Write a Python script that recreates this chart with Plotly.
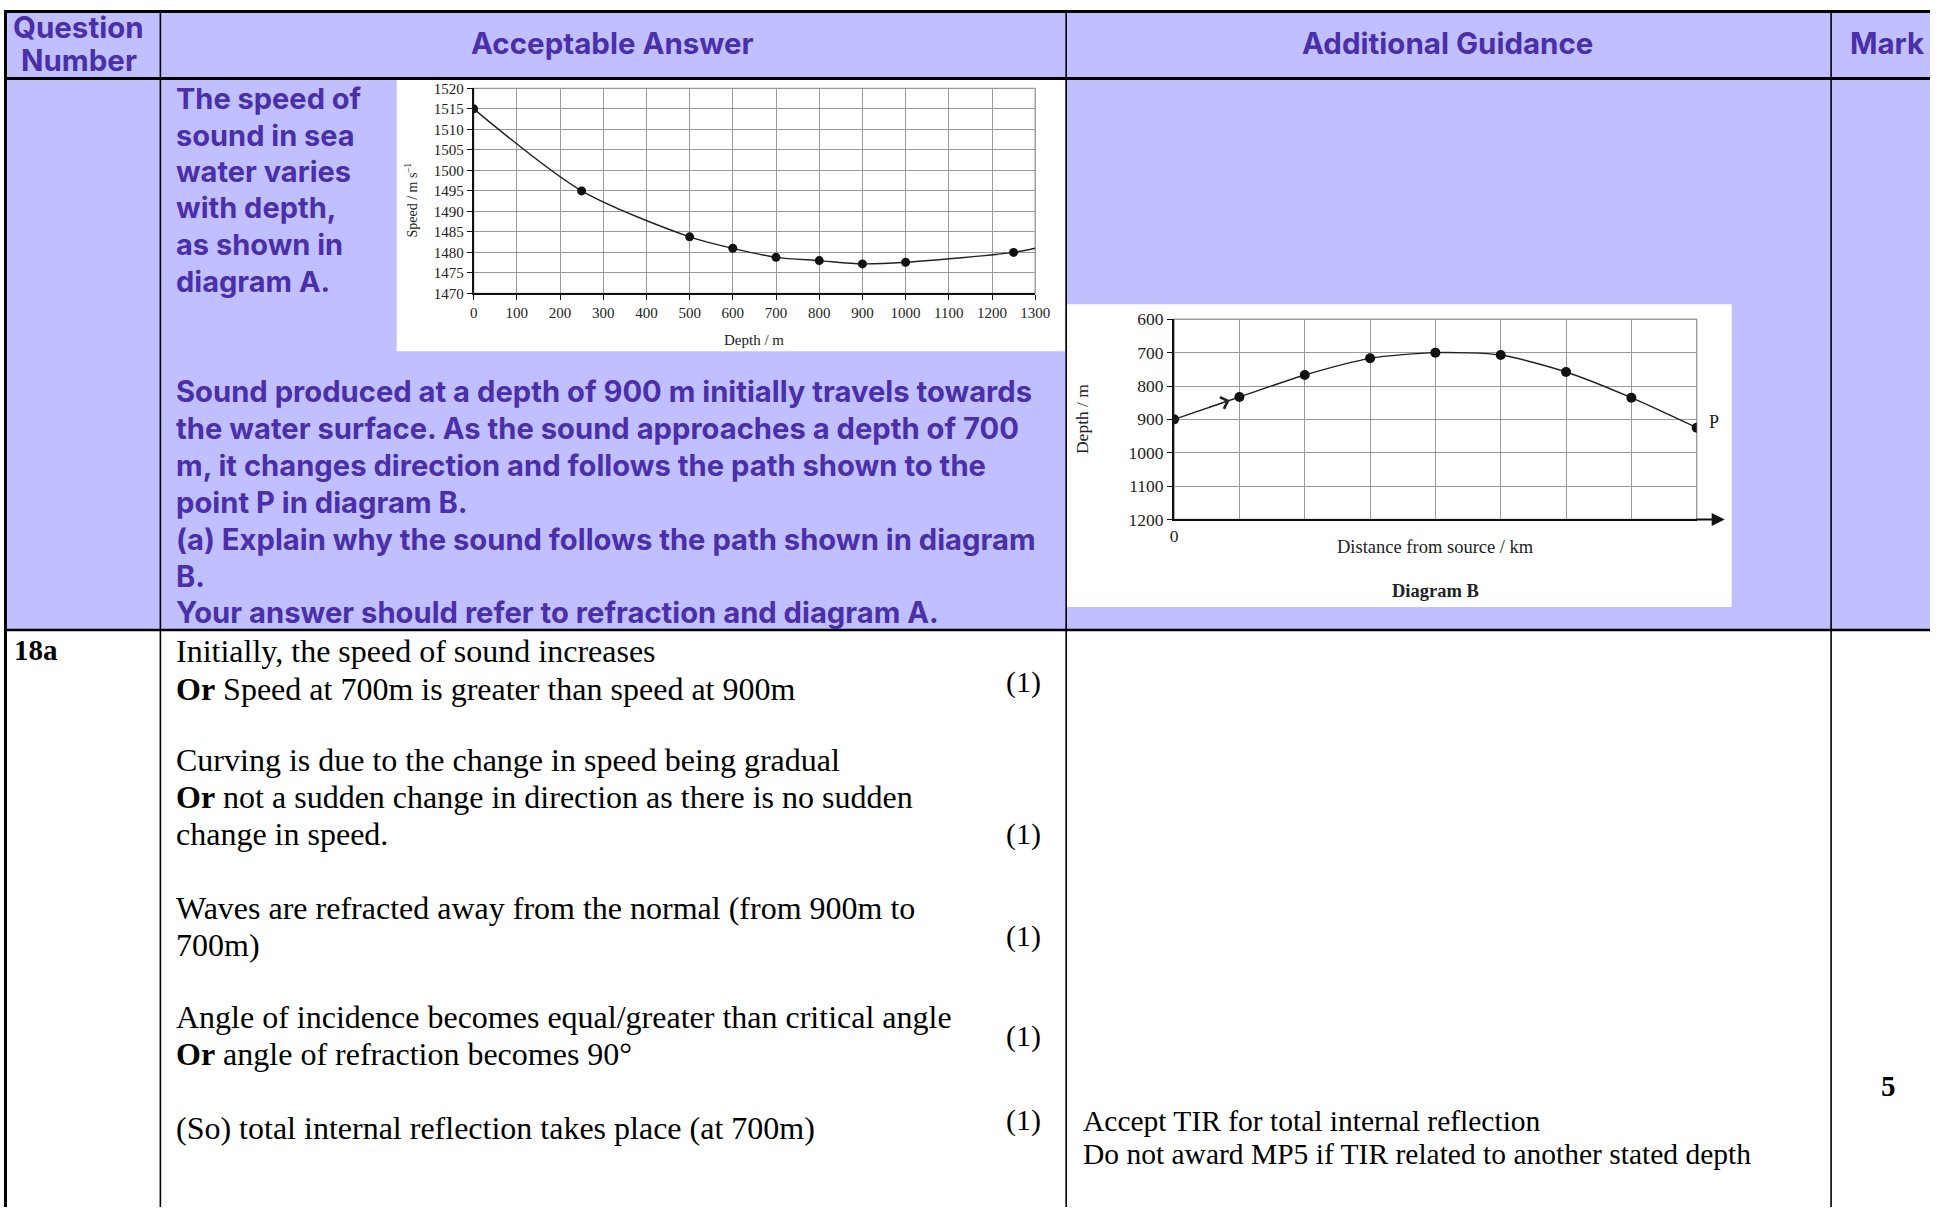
import plotly.graph_objects as go

W, H = 1945, 1217
# empirical correction for how the page is photographed (scale and shift)
SX, CX = 0.991, 6.0
SY, CY = 0.988, 8.3

# ---------------- data ----------------
# Diagram A: speed of sound vs depth
depth_pts = [0, 250, 500, 600, 700, 800, 900, 1000, 1250]
speed_pts = [1515, 1495, 1483.8, 1481, 1478.8, 1478, 1477.2, 1477.6, 1480]
curve_depth = [0, 250, 500, 600, 700, 800, 900, 1000, 1250, 1300]
curve_speed = [1515, 1495, 1483.8, 1481, 1478.8, 1478, 1477.2, 1477.6, 1480, 1481]
a_xticks = list(range(0, 1301, 100))
a_yticks = list(range(1470, 1521, 5))

# Diagram B: path of sound
dist_pts = [0, 1, 2, 3, 4, 5, 6, 7, 8]
path_depth = [900, 833, 767, 717, 700, 707, 758, 835, 925]
b_yticks = [600, 700, 800, 900, 1000, 1100, 1200]

headers = ["Question", "Number", "Acceptable Answer", "Additional Guidance", "Mark"]
question_a = ["The speed of", "sound in sea", "water varies", "with depth,",
              "as shown in", "diagram A."]
question_b = ["Sound produced at a depth of 900 m initially travels towards",
              "the water surface. As the sound approaches a depth of 700",
              "m, it changes direction and follows the path shown to the",
              "point P in diagram B.",
              "(a) Explain why the sound follows the path shown in diagram",
              "B.",
              "Your answer should refer to refraction and diagram A."]
answer_lines = ["Initially, the speed of sound increases",
                "<b>Or</b> Speed at 700m is greater than speed at 900m",
                "Curving is due to the change in speed being gradual",
                "<b>Or</b> not a sudden change in direction as there is no sudden",
                "change in speed.",
                "Waves are refracted away from the normal (from 900m to",
                "700m)",
                "Angle of incidence becomes equal/greater than critical angle",
                "<b>Or</b> angle of refraction becomes 90°",
                "(So) total internal reflection takes place (at 700m)"]
answer_y = [652, 690, 762, 799, 836, 910, 948, 1020, 1057, 1131]
mark_y = [683, 836, 938, 1039, 1123]
guidance = ["Accept TIR for total internal reflection",
            "Do not award MP5 if TIR related to another stated depth"]

LAV = "#c0bfff"
PURPLE = "#4b2fa8"
SANS = "Inter"
SERIF = "Liberation Serif, Times New Roman, serif"


def px(x):
    return max(0.0, min(1.0, ((x - CX) / SX) / W))


def py(y):
    return max(0.0, min(1.0, 1 - ((y - CY) / SY) / H))


fig = go.Figure()

# ---------- Diagram A ----------
fig.add_trace(go.Scatter(x=curve_depth, y=curve_speed, mode="lines",
                         line=dict(color="#222", width=1.4, shape="spline", smoothing=0.8),
                         xaxis="x", yaxis="y", hoverinfo="skip"))
fig.add_trace(go.Scatter(x=depth_pts, y=speed_pts, mode="markers",
                         marker=dict(color="#111", size=9),
                         xaxis="x", yaxis="y"))

# ---------- Diagram B ----------
fig.add_trace(go.Scatter(x=dist_pts, y=path_depth, mode="lines+markers",
                         line=dict(color="#222", width=1.4, shape="spline", smoothing=0.7),
                         marker=dict(color="#111", size=10),
                         xaxis="x2", yaxis="y2"))

axis_common = dict(showgrid=True, gridcolor="#9a9a9a", gridwidth=1.4, zeroline=False,
                   showline=True, linecolor="#111", linewidth=2, ticks="outside",
                   ticklen=5, tickcolor="#111")

fig.update_layout(
    width=W, height=H, margin=dict(l=0, r=0, t=0, b=0),
    paper_bgcolor="white", plot_bgcolor="rgba(0,0,0,0)", showlegend=False,
    xaxis=dict(domain=[px(476), px(1038)], range=[0, 1300], tickvals=a_xticks,
               tickfont=dict(family=SERIF, size=15, color="#222"), anchor="y", **axis_common),
    yaxis=dict(domain=[py(293), py(87)], range=[1470, 1520], tickvals=a_yticks,
               tickfont=dict(family=SERIF, size=15, color="#222"), anchor="x", **axis_common),
    xaxis2=dict(domain=[px(1177), px(1700)], range=[0, 8], tickvals=dist_pts,
                ticktext=["0"] + [""] * 8, ticks="", showgrid=True, gridcolor="#9a9a9a",
                gridwidth=1.4, zeroline=False, showline=True, linecolor="#111", linewidth=2,
                tickfont=dict(family=SERIF, size=17.5, color="#222"), anchor="y2"),
    yaxis2=dict(domain=[py(520), py(319)], range=[1200, 600], tickvals=b_yticks,
                tickfont=dict(family=SERIF, size=17.5, color="#222"), anchor="x2", **axis_common),
)

shapes = []
# backgrounds
shapes.append(dict(type="rect", xref="paper", yref="paper", x0=0, x1=1, y0=py(631), y1=1,
                   fillcolor=LAV, line_width=0, layer="below"))
# white chart boxes
shapes.append(dict(type="rect", xref="paper", yref="paper", x0=px(399), x1=px(1068),
                   y0=py(351), y1=py(78), fillcolor="white", line_width=0, layer="below"))
shapes.append(dict(type="rect", xref="paper", yref="paper", x0=px(1069), x1=px(1735),
                   y0=py(608), y1=py(304), fillcolor="white", line_width=0, layer="below"))
# chart borders (top/right gray)
for xr, yr in (("x", "y"), ("x2", "y2")):
    shapes.append(dict(type="rect", xref=xr + " domain", yref=yr + " domain", x0=0, x1=1, y0=0, y1=1,
                       line=dict(color="#9a9a9a", width=1.4), layer="below"))


# table lines
def hline(y, w):
    shapes.append(dict(type="line", xref="paper", yref="paper", x0=0, x1=1, y0=y, y1=y,
                       line=dict(color="black", width=w)))


def vline(x, w):
    shapes.append(dict(type="line", xref="paper", yref="paper", x0=x, x1=x, y0=0, y1=1,
                       line=dict(color="black", width=w)))


hline(1 - 1.5 / H, 3)
hline(py(77), 3)
hline(py(631), 2.5)
vline(1.5 / W, 3)
vline(px(162.5), 1.6)
vline(px(1069), 1.6)
vline(px(1834.5), 1.6)
fig.update_layout(shapes=shapes)

ann = []


def text(x, y, s, family, size, color, xanchor="left", weight=None, **kw):
    f = dict(family=family, size=size, color=color)
    if weight:
        f["weight"] = weight
    ann.append(dict(x=px(x), y=py(y), xref="paper", yref="paper", text=s, showarrow=False,
                    xanchor=xanchor, yanchor="middle", font=f, **kw))


# headers
text(81, 25, headers[0], SANS, 29.5, PURPLE, xanchor="center", weight=700)
text(81, 59, headers[1], SANS, 29.5, PURPLE, xanchor="center", weight=700)
text(615, 41, headers[2], SANS, 29.5, PURPLE, xanchor="center", weight=700)
text(1451, 41, headers[3], SANS, 29.5, PURPLE, xanchor="center", weight=700)
text(1890, 41, headers[4], SANS, 29.5, PURPLE, xanchor="center", weight=700)

qa_y = [97, 134, 171, 207, 244, 281]
for yy, s in zip(qa_y, question_a):
    text(176, yy, s, SANS, 29, PURPLE, weight=700)
qb_y = [392, 429, 466, 503, 540, 577, 614]
for yy, s in zip(qb_y, question_b):
    text(176, yy, s, SANS, 29.2, PURPLE, weight=700)

# answer row
text(14, 651, "<b>18a</b>", SERIF, 29, "black")
for yy, s in zip(answer_y, answer_lines):
    text(176, yy, s, SERIF, 32, "black")
for yy in mark_y:
    text(1026, yy, "(1)", SERIF, 30, "black", xanchor="center")
text(1084, 1124, guidance[0], SERIF, 29.5, "black")
text(1084, 1157, guidance[1], SERIF, 29.5, "black")
text(1892, 1089, "<b>5</b>", SERIF, 29, "black", xanchor="center")

# Diagram A axis titles
text(413, 199, "Speed / m s<sup>–1</sup>", SERIF, 14, "#222", xanchor="center", textangle=-90)
text(757, 340, "Depth / m", SERIF, 15, "#222", xanchor="center")

# Diagram B labels
text(1085, 419, "Depth / m", SERIF, 17.5, "#222", xanchor="center", textangle=-90)
text(1439, 548, "Distance from source / km", SERIF, 18.5, "#222", xanchor="center")
text(1439, 592, "<b>Diagram B</b>", SERIF, 18.5, "#222", xanchor="center")
ann.append(dict(x=dist_pts[-1], y=path_depth[-1], xref="x2", yref="y2", text="P", showarrow=False,
                xanchor="left", yanchor="middle", xshift=10, yshift=6,
                font=dict(family=SERIF, size=18, color="#222")))
# direction arrow on the first segment (interpolated from the data)
t0, t1 = 0.5, 0.85
ax0 = dist_pts[0] + t0 * (dist_pts[1] - dist_pts[0])
ay0 = path_depth[0] + t0 * (path_depth[1] - path_depth[0])
ax1 = dist_pts[0] + t1 * (dist_pts[1] - dist_pts[0])
ay1 = path_depth[0] + t1 * (path_depth[1] - path_depth[0])
ann.append(dict(x=ax1, y=ay1, ax=ax0, ay=ay0, xref="x2", yref="y2", axref="x2", ayref="y2",
                text="", showarrow=True, arrowhead=4, arrowsize=2.4, arrowwidth=1, arrowcolor="#222"))
# x axis arrow of diagram B
ann.append(dict(x=px(1728), y=py(520), ax=-30, ay=0, xref="paper", yref="paper",
                axref="pixel", ayref="pixel", text="", showarrow=True, arrowhead=2,
                arrowsize=1.3, arrowwidth=2, arrowcolor="#111"))

fig.update_layout(annotations=ann)

fig.write_html("out.html", config={"displayModeBar": False},
               post_script="document.body.style.margin='0';document.body.style.overflow='hidden';")
